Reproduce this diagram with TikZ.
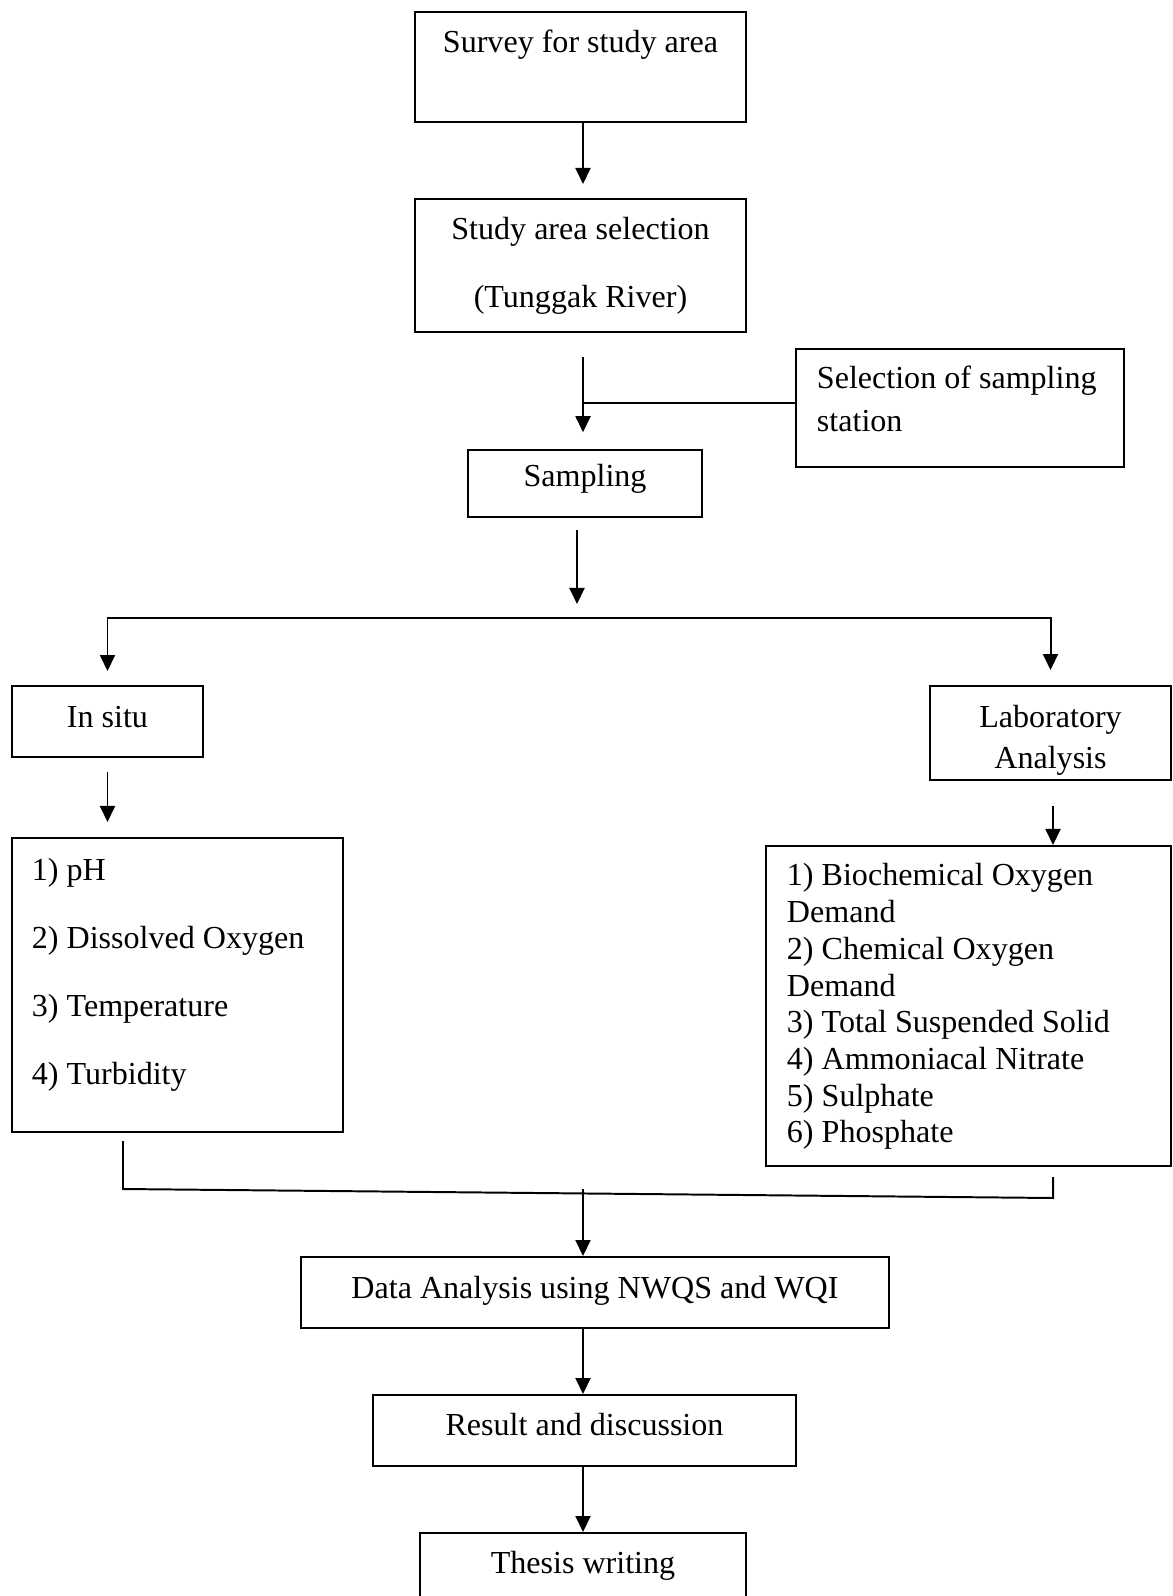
\documentclass[tikz,border=0pt]{standalone}
\usepackage{fontspec}
\setmainfont{Liberation Serif}
\usetikzlibrary{arrows.meta}

\begin{document}
\begin{tikzpicture}[
		x=0.025cm, y=-0.025cm,
		every node/.style={font=\fontsize{22.8}{26.1}\selectfont},
		>={Triangle[length=0.4cm, width=0.375cm]},
		% Plain boxes, text centred
		box/.style={draw, line width=1.4pt, inner sep=0pt, align=flush center},
		% Boxes with a left aligned list
		listbox/.style={draw, line width=1.4pt, inner xsep=0.525cm, inner ysep=0pt, align=flush left},
		% Connectors
		link/.style={line width=1.4pt},
		arrow/.style={->, line width=1.4pt}
		]
		
		\useasboundingbox (0,0) rectangle (1172,1596);
		\clip (0,0) rectangle (1172,1596);
		
		% === BOXES ===
		
		% Main column, top part
		\node[box, minimum width=8.275cm, minimum height=2.75cm, text height=0pt, text depth=0.7cm] (survey) at (580.5,67) {Survey for study area};
		\node[box, text width=8.275cm, minimum height=3.325cm, text height=0pt, text depth=1.275cm] (study) at (580.5,265.5) {Study area selection\\[22.2pt](Tunggak River)};
		\node[listbox, text width=7.15cm, minimum height=2.95cm, text height=0pt, text depth=0.95cm] (station) at (960,408) {Selection of sampling\\[3.9pt]station};
		\node[box, minimum width=5.85cm, minimum height=1.675cm, text height=0.16cm, text depth=0pt] (sampling) at (585,483.5) {Sampling};
		
		% Two branches
		\node[box, minimum width=4.775cm, minimum height=1.775cm, text height=0.275cm, text depth=0pt] (insitu) at (107.5,721.5) {In situ};
		\node[box, text width=6.025cm, minimum height=2.35cm, text height=0pt, text depth=0.3cm] (lab) at (1050.5,733) {Laboratory\\[3.2pt]Analysis};
		
		\node[listbox, inner xsep=0.5cm, text width=7.275cm, minimum height=7.35cm, text height=0pt, text depth=5.2cm] (params) at (177.5,985)
		{1) pH\\[22.2pt]2) Dissolved Oxygen\\[22.2pt]3) Temperature\\[22.2pt]4) Turbidity};
		\node[listbox, text width=9.075cm, minimum height=8cm, text height=0pt, text depth=6cm] (labparams) at (968.5,1006)
		{1) Biochemical Oxygen\\Demand\\2) Chemical Oxygen\\Demand\\3) Total Suspended Solid\\4) Ammoniacal Nitrate\\5) Sulphate\\6) Phosphate};
		
		% Main column, bottom part
		\node[box, minimum width=14.7cm, minimum height=1.775cm, text height=0.275cm, text depth=0pt] (analysis) at (595,1292.5) {Data Analysis using NWQS and WQI};
		\node[box, minimum width=10.575cm, minimum height=1.775cm, text height=0.225cm, text depth=0pt] (result) at (584.5,1430.5) {Result and discussion};
		\node[box, minimum width=8.15cm, minimum height=1.775cm, text height=0.225cm, text depth=0pt] (thesis) at (583,1568.5) {Thesis writing};
		
		% Points where lines meet
		\coordinate (join) at (583,403);
		\coordinate (split) at (577,618);
		\coordinate (mergeL) at (123,1189);
		\coordinate (mergeM) at (583,1189);
		\coordinate (mergeR) at (1053,1198);
		
		% === CONNECTORS ===
		
		\draw[arrow, shorten >=0.35cm] (survey.south -| mergeM) -- (study.north -| mergeM);
		\draw[arrow, shorten <=0.6cm, shorten >=0.42cm] (study.south -| mergeM) -- (sampling.north -| mergeM);
		\draw[link] (join -| station.west) -- (join);
		\draw[arrow, shorten <=0.3cm, shorten >=0.35cm] (sampling.south -| split) -- (split);
		
		% split into in situ / laboratory
		\draw[<->, line width=1.4pt, shorten <=0.35cm, shorten >=0.375cm] (insitu.north) |- (split) -| (lab.north);
		\draw[arrow, shorten <=0.35cm, shorten >=0.375cm] (insitu.south) -- (insitu.south |- params.north);
		\draw[arrow, shorten <=0.625cm] (lab.south -| mergeR) -- (labparams.north -| mergeR);
		
		% merge back
		\draw[link, shorten <=0.2cm, shorten >=0.25cm] (params.south -| mergeL) -- (mergeL) -- (mergeR) -- (labparams.south -| mergeR);
		\draw[arrow] (mergeM) -- (analysis.north -| mergeM);
		\draw[arrow] (analysis.south -| mergeM) -- (result.north -| mergeM);
		\draw[arrow] (result.south -| mergeM) -- (thesis.north -| mergeM);
		
	\end{tikzpicture}
\end{document}
